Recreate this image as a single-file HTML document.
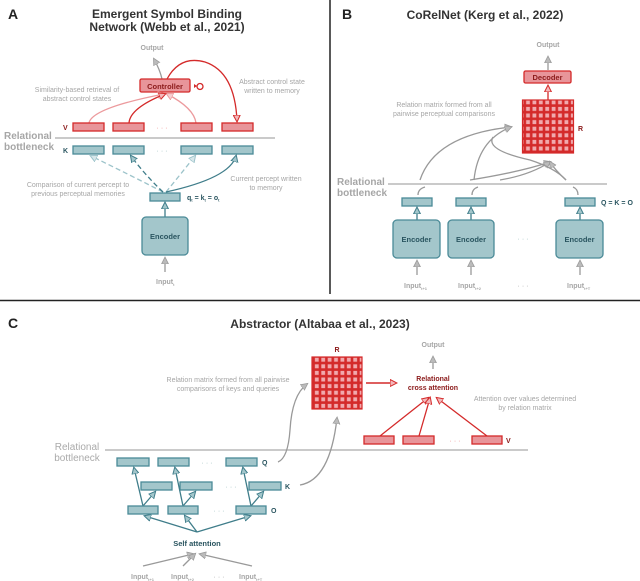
<!DOCTYPE html>
<html><head><meta charset="utf-8"><style>
body{margin:0;background:#fff}
svg{display:block;font-family:"Liberation Sans",sans-serif}
.g{fill:#a6a6a6;font-size:7px}
.gb{fill:#a6a6a6;font-size:7px;font-weight:bold}
.t{fill:#333;font-size:12px;font-weight:bold}
.tb{fill:#a6a6a6;font-size:10px;font-weight:bold}
.tl{fill:#2a5560;font-size:7px;font-weight:bold}
.rl{fill:#8b1a1a;font-size:7px;font-weight:bold}
.tbox{fill:#a3c6cb;stroke:#4a8a97;stroke-width:1.3}
.rbox{fill:#e8959a;stroke:#d42a2a;stroke-width:1.3}
</style></head><body>
<svg width="640" height="581" viewBox="0 0 640 581">
<defs>
<marker id="mg" markerWidth="8" markerHeight="8" refX="6" refY="4" orient="auto" markerUnits="userSpaceOnUse"><path d="M0,0.5 L7,4 L0,7.5Z" fill="#bbb" stroke="#999" stroke-width="0.8"/></marker>
<marker id="mt" markerWidth="8" markerHeight="8" refX="6" refY="4" orient="auto" markerUnits="userSpaceOnUse"><path d="M0,0.5 L7,4 L0,7.5Z" fill="#a3c6cb" stroke="#3f7d8a" stroke-width="1"/></marker>
<marker id="mr" markerWidth="8" markerHeight="8" refX="6" refY="4" orient="auto" markerUnits="userSpaceOnUse"><path d="M0,0.5 L7,4 L0,7.5Z" fill="#f3b8bb" stroke="#d42a2a" stroke-width="1"/></marker>
<marker id="ml" markerWidth="8" markerHeight="8" refX="6" refY="4" orient="auto" markerUnits="userSpaceOnUse"><path d="M0,0.5 L7,4 L0,7.5Z" fill="#f6d0d2" stroke="#ec9a9d" stroke-width="1"/></marker>
<marker id="mtl" markerWidth="8" markerHeight="8" refX="6" refY="4" orient="auto" markerUnits="userSpaceOnUse"><path d="M0,0.5 L7,4 L0,7.5Z" fill="#d7e7ea" stroke="#9cc3ca" stroke-width="1"/></marker>
<pattern id="grid" x="0" y="0" width="6.4" height="6.6" patternUnits="userSpaceOnUse"><rect width="6.4" height="6.6" fill="#d42a2a"/><rect x="1.3" y="1.3" width="3.8" height="4" fill="#f1a9ad"/></pattern>
</defs>

<!-- dividers -->
<line x1="330" y1="0" x2="330" y2="294" stroke="#222" stroke-width="1.5"/>
<line x1="0" y1="300.5" x2="640" y2="300.5" stroke="#222" stroke-width="1.5"/>

<!-- ===== Panel A ===== -->
<text x="8" y="19" style="font-size:14px;font-weight:bold;fill:#222">A</text>
<text x="167" y="18" text-anchor="middle" class="t">Emergent Symbol Binding</text>
<text x="167" y="31" text-anchor="middle" class="t">Network (Webb et al., 2021)</text>
<text x="152" y="50" text-anchor="middle" class="gb">Output</text>
<path d="M162,79 Q160,70 154,59" fill="none" stroke="#999" stroke-width="1.3" marker-end="url(#mg)"/>
<rect x="140" y="79" width="50" height="13" rx="1.5" class="rbox"/>
<text x="165" y="89" text-anchor="middle" class="rl" style="font-size:7.5px">Controller</text>
<circle cx="200" cy="86.5" r="3" fill="none" stroke="#d42a2a" stroke-width="1.3"/>
<path d="M197,86 l-3,-2 l0,4z" fill="#d42a2a"/>
<path d="M167,79 Q180,55 205,62 Q235,72 237,121" fill="none" stroke="#d42a2a" stroke-width="1.3" marker-end="url(#mr)"/>
<path d="M89,123 Q92,108 164,94" fill="none" stroke="#ec9a9d" stroke-width="1.3" marker-end="url(#ml)"/>
<path d="M196,123 Q194,108 167,94" fill="none" stroke="#ec9a9d" stroke-width="1.3" marker-end="url(#ml)"/>
<path d="M129,123 Q130,108 165,94" fill="none" stroke="#d42a2a" stroke-width="1.3" marker-end="url(#mr)"/>
<text x="77" y="92" text-anchor="middle" class="g">Similarity-based retrieval of</text>
<text x="77" y="101" text-anchor="middle" class="g">abstract control states</text>
<text x="272" y="84" text-anchor="middle" class="g">Abstract control state</text>
<text x="272" y="93" text-anchor="middle" class="g">written to memory</text>
<text x="63" y="130" class="rl">V</text>
<rect x="73" y="123" width="31" height="8" class="rbox"/>
<rect x="113" y="123" width="31" height="8" class="rbox"/>
<text x="162" y="130" text-anchor="middle" style="fill:#e88;font-size:7px">· · ·</text>
<rect x="181" y="123" width="31" height="8" class="rbox"/>
<rect x="222" y="123" width="31" height="8" class="rbox"/>
<line x1="55" y1="138" x2="275" y2="138" stroke="#aaa" stroke-width="1.2"/>
<text x="4" y="139" class="tb">Relational</text>
<text x="4" y="150" class="tb">bottleneck</text>
<text x="63" y="153" class="tl">K</text>
<rect x="73" y="146" width="31" height="8" class="tbox"/>
<rect x="113" y="146" width="31" height="8" class="tbox"/>
<text x="162" y="153" text-anchor="middle" style="fill:#9bb;font-size:7px">· · ·</text>
<rect x="181" y="146" width="31" height="8" class="tbox"/>
<rect x="222" y="146" width="31" height="8" class="tbox"/>
<path d="M163,192 Q130,175 91,156" fill="none" stroke="#9cc3ca" stroke-width="1.3" stroke-dasharray="5,3" marker-end="url(#mtl)"/>
<path d="M163,192 Q145,175 131,156" fill="none" stroke="#3f7d8a" stroke-width="1.3" stroke-dasharray="5,3" marker-end="url(#mt)"/>
<path d="M166,192 Q180,175 195,156" fill="none" stroke="#9cc3ca" stroke-width="1.3" stroke-dasharray="5,3" marker-end="url(#mtl)"/>
<path d="M166,192 Q230,178 236,156" fill="none" stroke="#3f7d8a" stroke-width="1.3" marker-end="url(#mt)"/>
<text x="78" y="187" text-anchor="middle" class="g">Comparison of current percept to</text>
<text x="78" y="196" text-anchor="middle" class="g">previous perceptual memories</text>
<text x="266" y="181" text-anchor="middle" class="g">Current percept written</text>
<text x="266" y="190" text-anchor="middle" class="g">to memory</text>
<rect x="150" y="193" width="30" height="8" class="tbox"/>
<text x="187" y="200" class="tl">q<tspan dy="1.5" font-size="4">t</tspan><tspan dy="-1.5"> = k</tspan><tspan dy="1.5" font-size="4">t</tspan><tspan dy="-1.5"> = o</tspan><tspan dy="1.5" font-size="4">t</tspan></text>
<line x1="165" y1="217" x2="165" y2="203" stroke="#3f7d8a" stroke-width="1.3" marker-end="url(#mt)"/>
<rect x="142" y="217" width="46" height="38" rx="4" class="tbox"/>
<text x="165" y="239" text-anchor="middle" class="tl" style="font-size:7.5px">Encoder</text>
<line x1="165" y1="272" x2="165" y2="258" stroke="#999" stroke-width="1.3" marker-end="url(#mg)"/>
<text x="156" y="284" class="gb">Input<tspan dy="2" font-size="4">t</tspan></text>

<!-- ===== Panel B ===== -->
<text x="342" y="19" style="font-size:14px;font-weight:bold;fill:#222">B</text>
<text x="485" y="19" text-anchor="middle" class="t">CoRelNet (Kerg et al., 2022)</text>
<text x="548" y="47" text-anchor="middle" class="gb">Output</text>
<line x1="548" y1="70" x2="548" y2="57" stroke="#999" stroke-width="1.3" marker-end="url(#mg)"/>
<rect x="524" y="71" width="47" height="12" rx="1.5" class="rbox"/>
<text x="547.5" y="80" text-anchor="middle" class="rl" style="font-size:7.5px">Decoder</text>
<line x1="548" y1="100" x2="548" y2="86" stroke="#d42a2a" stroke-width="1.3" marker-end="url(#mr)"/>
<rect x="522.5" y="100" width="51" height="53" fill="url(#grid)" stroke="#d42a2a" stroke-width="1.2"/>
<text x="578" y="131" class="rl">R</text>
<text x="444" y="107" text-anchor="middle" class="g">Relation matrix formed from all</text>
<text x="444" y="116" text-anchor="middle" class="g">pairwise perceptual comparisons</text>
<g fill="none" stroke="#999" stroke-width="1.3">
<path d="M420,180 Q435,135 511,127" marker-end="url(#mg)"/>
<path d="M474,180 Q478,140 511,127" marker-end="url(#mg)"/>
<path d="M470,180 Q520,172 550,162" marker-end="url(#mg)"/>
<path d="M500,180 Q530,175 550,162" marker-end="url(#mg)"/>
<path d="M566,180 Q555,170 550,162" marker-end="url(#mg)"/>
<path d="M493,137 Q485,150 530,160 Q555,168 566,180"/>
<path d="M418,195 Q418,189 425,187"/>
<path d="M472,195 Q472,189 478,187"/>
<path d="M578,195 Q578,189 573,187"/>
</g>
<line x1="388" y1="184" x2="607" y2="184" stroke="#aaa" stroke-width="1.2"/>
<text x="337" y="185" class="tb">Relational</text>
<text x="337" y="196" class="tb">bottleneck</text>
<rect x="402" y="198" width="30" height="8" class="tbox"/>
<rect x="456" y="198" width="30" height="8" class="tbox"/>
<rect x="565" y="198" width="30" height="8" class="tbox"/>
<text x="601" y="205" class="tl">Q = K = O</text>
<g stroke="#3f7d8a" stroke-width="1.3" marker-end="url(#mt)">
<line x1="417" y1="220" x2="417" y2="208"/><line x1="471" y1="220" x2="471" y2="208"/><line x1="580" y1="220" x2="580" y2="208"/>
</g>
<rect x="393" y="220" width="47" height="38" rx="4" class="tbox"/>
<rect x="448" y="220" width="46" height="38" rx="4" class="tbox"/>
<rect x="556" y="220" width="47" height="38" rx="4" class="tbox"/>
<text x="416.5" y="242" text-anchor="middle" class="tl" style="font-size:7.5px">Encoder</text>
<text x="471" y="242" text-anchor="middle" class="tl" style="font-size:7.5px">Encoder</text>
<text x="579.5" y="242" text-anchor="middle" class="tl" style="font-size:7.5px">Encoder</text>
<text x="523" y="241" text-anchor="middle" style="fill:#9bb;font-size:7px">· · ·</text>
<g stroke="#999" stroke-width="1.3" marker-end="url(#mg)">
<line x1="417" y1="275" x2="417" y2="261"/><line x1="471" y1="275" x2="471" y2="261"/><line x1="580" y1="275" x2="580" y2="261"/>
</g>
<text x="404" y="288" class="gb">Input<tspan dy="2" font-size="4">t+1</tspan></text>
<text x="458" y="288" class="gb">Input<tspan dy="2" font-size="4">t+2</tspan></text>
<text x="523" y="288" text-anchor="middle" class="g">· · ·</text>
<text x="567" y="288" class="gb">Input<tspan dy="2" font-size="4">t+T</tspan></text>

<!-- ===== Panel C ===== -->
<text x="8" y="328" style="font-size:14px;font-weight:bold;fill:#222">C</text>
<text x="320" y="328" text-anchor="middle" class="t">Abstractor (Altabaa et al., 2023)</text>
<text x="337" y="352" text-anchor="middle" class="rl">R</text>
<rect x="312" y="357" width="50" height="52" fill="url(#grid)" stroke="#d42a2a" stroke-width="1.2"/>
<text x="433" y="347" text-anchor="middle" class="gb">Output</text>
<line x1="433" y1="369" x2="433" y2="357" stroke="#999" stroke-width="1.3" marker-end="url(#mg)"/>
<text x="433" y="381" text-anchor="middle" class="rl">Relational</text>
<text x="433" y="390" text-anchor="middle" class="rl">cross attention</text>
<line x1="366" y1="383" x2="396" y2="383" stroke="#d42a2a" stroke-width="1.5" marker-end="url(#mr)"/>
<text x="228" y="382" text-anchor="middle" class="g">Relation matrix formed from all pairwise</text>
<text x="228" y="391" text-anchor="middle" class="g">comparisons of keys and queries</text>
<text x="525" y="401" text-anchor="middle" class="g">Attention over values determined</text>
<text x="525" y="410" text-anchor="middle" class="g">by relation matrix</text>
<g fill="none" stroke="#d42a2a" stroke-width="1.3" marker-end="url(#mr)">
<line x1="380" y1="436" x2="428" y2="398"/><line x1="419" y1="436" x2="430" y2="398"/><line x1="487" y1="436" x2="437" y2="398"/>
</g>
<rect x="364" y="436" width="30" height="8" class="rbox"/>
<rect x="403" y="436" width="31" height="8" class="rbox"/>
<text x="455" y="443" text-anchor="middle" style="fill:#e88;font-size:7px">· · ·</text>
<rect x="472" y="436" width="30" height="8" class="rbox"/>
<text x="506" y="443" class="rl">V</text>
<line x1="105" y1="450" x2="528" y2="450" stroke="#aaa" stroke-width="1.2"/>
<text x="77" y="450" text-anchor="middle" class="tb" style="fill:#aaa;font-weight:normal">Relational</text>
<text x="77" y="461" text-anchor="middle" class="tb" style="fill:#aaa;font-weight:normal">bottleneck</text>
<g fill="none" stroke="#999" stroke-width="1.3" marker-end="url(#mg)">
<path d="M278,462 Q288,458 290,430 Q292,395 307,384"/>
<path d="M300,485 Q330,480 337,418"/>
</g>
<rect x="117" y="458" width="32" height="8" class="tbox"/>
<rect x="158" y="458" width="31" height="8" class="tbox"/>
<text x="207" y="465" text-anchor="middle" style="fill:#9bb;font-size:7px">· · ·</text>
<rect x="226" y="458" width="31" height="8" class="tbox"/>
<text x="262" y="465" class="tl">Q</text>
<rect x="141" y="482" width="31" height="8" class="tbox"/>
<rect x="180" y="482" width="32" height="8" class="tbox"/>
<text x="231" y="489" text-anchor="middle" style="fill:#9bb;font-size:7px">· · ·</text>
<rect x="249" y="482" width="32" height="8" class="tbox"/>
<text x="285" y="489" class="tl">K</text>
<g stroke="#3f7d8a" stroke-width="1.3" marker-end="url(#mt)">
<line x1="143" y1="506" x2="134" y2="468"/><line x1="143" y1="506" x2="155" y2="492"/>
<line x1="183" y1="506" x2="175" y2="468"/><line x1="183" y1="506" x2="195" y2="492"/>
<line x1="251" y1="506" x2="243" y2="468"/><line x1="251" y1="506" x2="263" y2="492"/>
<line x1="197" y1="532" x2="145" y2="516"/><line x1="197" y1="532" x2="185" y2="516"/><line x1="197" y1="532" x2="250" y2="516"/>
</g>
<rect x="128" y="506" width="30" height="8" class="tbox"/>
<rect x="168" y="506" width="30" height="8" class="tbox"/>
<text x="219" y="513" text-anchor="middle" style="fill:#9bb;font-size:7px">· · ·</text>
<rect x="236" y="506" width="30" height="8" class="tbox"/>
<text x="271" y="513" class="tl">O</text>
<text x="197" y="546" text-anchor="middle" class="tl" style="font-size:7.5px">Self attention</text>
<g stroke="#999" stroke-width="1.3" marker-end="url(#mg)">
<line x1="143" y1="566" x2="193" y2="554"/><line x1="183" y1="566" x2="195" y2="554"/><line x1="252" y1="566" x2="200" y2="554"/>
</g>
<text x="131" y="579" class="gb">Input<tspan dy="2" font-size="4">t+1</tspan></text>
<text x="171" y="579" class="gb">Input<tspan dy="2" font-size="4">t+2</tspan></text>
<text x="219" y="579" text-anchor="middle" class="g">· · ·</text>
<text x="239" y="579" class="gb">Input<tspan dy="2" font-size="4">t+T</tspan></text>
</svg>
</body></html>
